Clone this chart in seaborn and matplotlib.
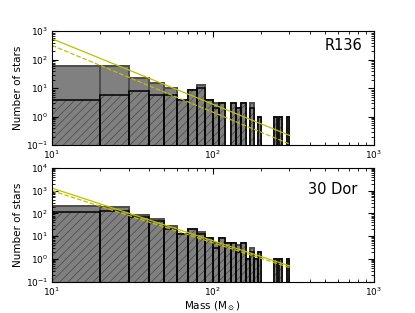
import matplotlib
matplotlib.use("Agg")
import matplotlib.pyplot as plt
import pandas as pd
import seaborn as sns

# mass bins (Msun), 10 Msun wide
bin_edges = list(range(10, 310, 10))
bin_mid = [b + 5 for b in bin_edges[:-1]]

# R136: all stars and the hatched subset
r136_all = [60, 60, 23, 15, 10, 4, 9, 13, 4, 3, 3, 0, 3, 2, 3, 0, 3, 0, 1,
            0, 0, 0, 0, 1, 0, 1, 0, 0, 1]
r136_sub = [4, 6, 8, 6, 6, 4, 9, 10, 4, 2, 3, 0, 3, 2, 3, 0, 2, 0, 1,
            0, 0, 0, 0, 1, 0, 1, 0, 0, 1]

# 30 Dor
dor_all = [220, 190, 88, 57, 27, 13, 21, 16, 8, 5, 8, 5, 5, 4, 5, 1, 3, 1, 2,
           0, 0, 0, 0, 1, 0, 1, 0, 0, 1]
dor_sub = [120, 125, 70, 48, 21, 13, 21, 13, 8, 3, 8, 5, 5, 2, 5, 1, 2, 1, 2,
           0, 0, 0, 0, 1, 0, 1, 0, 0, 1]

# power-law fits, end points
fit_mass = [10, 300]
r136_fit = [550, 0.22]
r136_fit2 = [320, 0.11]
dor_fit = [1300, 0.5]
dor_fit2 = [1000, 0.42]

plt.rcParams['hatch.linewidth'] = 0.5
plt.rcParams['xtick.direction'] = 'in'
plt.rcParams['ytick.direction'] = 'in'
plt.rcParams['xtick.top'] = True
plt.rcParams['ytick.right'] = True

fig, axes = plt.subplots(2, 1, figsize=(4.15, 3.13), dpi=100)
fig.subplots_adjust(left=0.125, right=0.9, bottom=0.1, top=0.9, hspace=0.2)

panels = [
    (axes[0], r136_all, r136_sub, r136_fit, r136_fit2, 'R136', (0.1, 1e3), (0.965, 0.875)),
    (axes[1], dor_all, dor_sub, dor_fit, dor_fit2, '30 Dor', (0.1, 1e4), (0.95, 0.81)),
]

for ax, n_all, n_sub, fit, fit2, name, ylim, txt in panels:
    df = pd.DataFrame({'mass': bin_mid, 'all': n_all, 'sub': n_sub})
    sns.histplot(data=df, x='mass', weights='all', bins=bin_edges, ax=ax,
                 color='0.5', edgecolor='0.3', linewidth=1.4, alpha=1)
    # hatched subset, hatch lines in dark gray, then black outline
    sns.histplot(data=df, x='mass', weights='sub', bins=bin_edges, ax=ax,
                 color='0.5', edgecolor='0.28', linewidth=0, hatch='////', alpha=1)
    sns.histplot(data=df, x='mass', weights='sub', bins=bin_edges, ax=ax,
                 fill=False, color='k', linewidth=1.1)
    sns.lineplot(x=fit_mass, y=fit, ax=ax, color='#bfbf00', linewidth=0.9)
    sns.lineplot(x=fit_mass, y=fit2, ax=ax, color='#bfbf00', linewidth=0.9,
                 linestyle='--')
    ax.set_xscale('log')
    ax.set_yscale('log')
    ax.set_xlim(10, 1000)
    ax.set_ylim(*ylim)
    ax.set_ylabel('Number of stars', fontsize=7.5, labelpad=2)
    ax.set_xlabel('')
    ax.tick_params(labelsize=6.5, width=0.8, length=4, pad=2.5)
    ax.tick_params(which='minor', length=2, width=0.6)
    ax.text(txt[0], txt[1], name, transform=ax.transAxes, ha='right',
            va='center', fontsize=10.5)

axes[1].set_xlabel(r'Mass (M$_\odot$)', fontsize=7.5, labelpad=1)

fig.savefig('out.png', dpi=100)
